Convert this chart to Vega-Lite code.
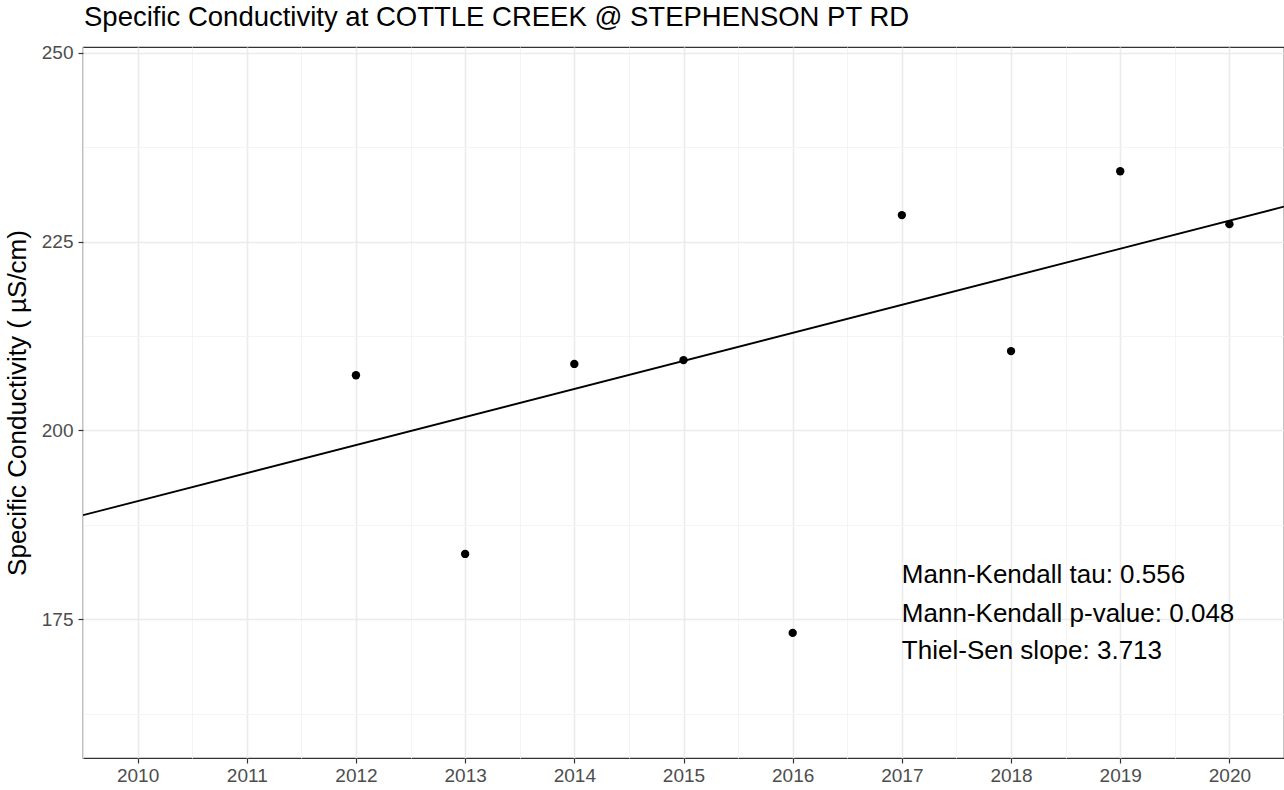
{
  "$schema": "https://vega.github.io/schema/vega-lite/v6.json",
  "width": 1201,
  "height": 711,
  "autosize": {"type": "none"},
  "padding": {"left": 83, "top": 47, "right": 0, "bottom": 32},
  "background": "white",
  "title": {
    "text": "Specific Conductivity at COTTLE CREEK @ STEPHENSON PT RD",
    "anchor": "start",
    "frame": "group",
    "fontSize": 27.5,
    "font": "Liberation Sans",
    "fontWeight": "normal",
    "color": "black",
    "baseline": "alphabetic",
    "offset": 19,
    "dy": 29,
    "dx": 1
  },
  "config": {
    "font": "Liberation Sans",
    "view": {"stroke": "#333333", "strokeWidth": 1.2},
    "axis": {
      "domain": false,
      "labelFont": "Liberation Sans",
      "labelFontSize": 19,
      "labelColor": "#4d4d4d",
      "labelOverlap": false,
      "labelBound": false,
      "labelFlush": false,
      "tickColor": "#333333",
      "tickSize": 5,
      "tickWidth": 1.2,
      "titleFont": "Liberation Sans",
      "titleFontWeight": "normal",
      "titleColor": "black"
    }
  },
  "datasets": {
    "obs": [
      {"year": 2012, "value": 207.3},
      {"year": 2013, "value": 183.65},
      {"year": 2014, "value": 208.8},
      {"year": 2015, "value": 209.3},
      {"year": 2016, "value": 173.2},
      {"year": 2017, "value": 228.5},
      {"year": 2018, "value": 210.5},
      {"year": 2019, "value": 234.3},
      {"year": 2020, "value": 227.3}
    ],
    "trend": [
      {"year": 2009.5, "value": 188.78},
      {"year": 2020.5, "value": 229.62}
    ],
    "notes": [
      {"year": 2017, "value": 179.77, "label": "Mann-Kendall tau: 0.556"},
      {"year": 2017, "value": 174.69, "label": "Mann-Kendall p-value: 0.048"},
      {"year": 2017, "value": 169.75, "label": "Thiel-Sen slope: 3.713"}
    ]
  },
  "layer": [
    {
      "data": {"name": "trend"},
      "mark": {"type": "line", "color": "black", "strokeWidth": 1.8, "clip": true},
      "encoding": {
        "x": {
          "field": "year",
          "type": "quantitative",
          "scale": {"domain": [2009.5, 2020.5], "nice": false, "zero": false},
          "axis": {
            "orient": "bottom",
            "title": null,
            "values": [2009.5, 2010, 2010.5, 2011, 2011.5, 2012, 2012.5, 2013, 2013.5, 2014, 2014.5, 2015, 2015.5, 2016, 2016.5, 2017, 2017.5, 2018, 2018.5, 2019, 2019.5, 2020, 2020.5],
            "labelExpr": "datum.value % 1 === 0 ? format(datum.value, 'd') : ''",
            "labelPadding": 3,
            "gridColor": {"condition": {"test": "datum.value % 1 !== 0", "value": "#f3f3f3"}, "value": "#ebebeb"},
            "gridWidth": {"condition": {"test": "datum.value % 1 !== 0", "value": 0.9}, "value": 1.6},
            "tickOpacity": {"condition": {"test": "datum.value % 1 !== 0", "value": 0}, "value": 1}
          }
        },
        "y": {
          "field": "value",
          "type": "quantitative",
          "scale": {"domain": [156.64, 250.75], "nice": false, "zero": false},
          "axis": {
            "orient": "left",
            "title": "Specific Conductivity ( µS/cm)",
            "titleFontSize": 26,
            "titlePadding": 11,
            "values": [162.5, 175, 187.5, 200, 212.5, 225, 237.5, 250],
            "labelExpr": "datum.value % 25 === 0 ? datum.label : ''",
            "labelPadding": 5,
            "gridColor": {"condition": {"test": "datum.value % 25 !== 0", "value": "#f3f3f3"}, "value": "#ebebeb"},
            "gridWidth": {"condition": {"test": "datum.value % 25 !== 0", "value": 0.9}, "value": 1.6},
            "tickOpacity": {"condition": {"test": "datum.value % 25 !== 0", "value": 0}, "value": 1}
          }
        }
      }
    },
    {
      "data": {"name": "obs"},
      "mark": {"type": "circle", "color": "black", "opacity": 1, "size": 70},
      "encoding": {
        "x": {"field": "year", "type": "quantitative"},
        "y": {"field": "value", "type": "quantitative"}
      }
    },
    {
      "data": {"name": "notes"},
      "mark": {"type": "text", "align": "left", "baseline": "alphabetic", "fontSize": 26, "font": "Liberation Sans", "color": "black"},
      "encoding": {
        "x": {"field": "year", "type": "quantitative"},
        "y": {"field": "value", "type": "quantitative"},
        "text": {"field": "label", "type": "nominal"}
      }
    }
  ]
}
